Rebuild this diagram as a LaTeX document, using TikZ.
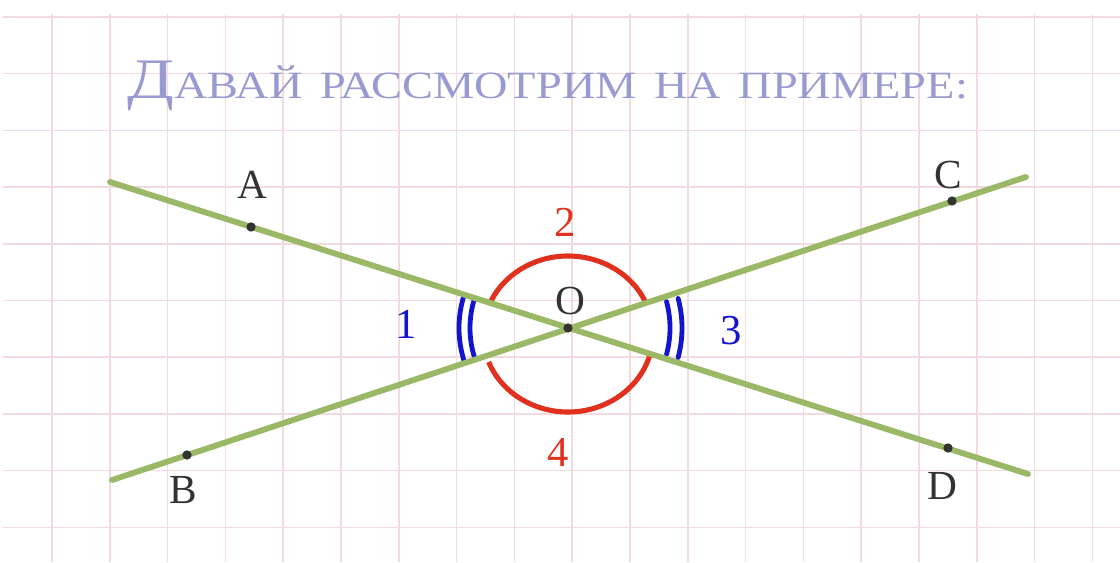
\documentclass[tikz,border=0pt]{standalone}
\usepackage{fontspec}
\setmainfont{Liberation Serif}
\newfontfamily\titlefont[FakeStretch=1.2]{Liberation Serif}
\definecolor{gridpink}{HTML}{F2DADF}
\definecolor{linegreen}{HTML}{9AB866}
\definecolor{arcred}{HTML}{E0301E}
\definecolor{arcblue}{HTML}{1414CC}
\definecolor{titlecol}{HTML}{9A9AD2}
\definecolor{dotcol}{HTML}{333333}
\tikzset{
  gridline/.style={draw=gridpink, line width=1.1pt},
  greenline/.style={draw=linegreen, line width=4.4pt, line cap=round},
  redarc/.style={draw=arcred, line width=3.8pt},
  bluearc/.style={draw=arcblue, line width=3.6pt, line cap=round},
  ptdot/.style={circle, fill=dotcol, inner sep=0pt, minimum size=7pt},
  ptlabel/.style={text=dotcol, font=\fontsize{31}{31}\selectfont, inner sep=0pt},
  numlabel/.style={font=\fontsize{32}{32}\selectfont, inner sep=0pt}
}
\newcommand{\tsp}{\hspace{0.45em}}
\begin{document}
\begin{tikzpicture}[x=0.75pt, y=0.75pt]
\useasboundingbox (0,0) rectangle (1120,562);
\fill[white] (0,0) rectangle (1120,562);
% grid
\foreach \k in {0,...,18} {
  \draw[gridline] ({52+57.8*\k},0) -- ({52+57.8*\k},548);
}
\foreach \k in {0,...,9} {
  \draw[gridline] (3,{545-56.7*\k}) -- (1120,{545-56.7*\k});
}
% title
\node[anchor=base west, inner sep=0pt, text=titlecol] (title) at (127,464)
  {\titlefont{\fontsize{43}{43}\selectfont Д}{\fontsize{29}{29}\selectfont АВАЙ\tsp РАССМОТРИМ\tsp НА\tsp ПРИМЕРЕ:}};
% line ends
\coordinate (ADs) at (110,380);
\coordinate (ADe) at (1028,88);
\coordinate (BCs) at (112,82);
\coordinate (BCe) at (1026,385);
\coordinate (O) at (568,234);
\coordinate (E) at (568,228);
% red arcs
\draw[redarc] ([shift={(25:85 and 78)}]E) arc[start angle=25, end angle=155, x radius=85, y radius=78];
\draw[redarc] ([shift={(201:85 and 78)}]E) arc[start angle=201, end angle=346, x radius=85, y radius=78];
% blue arcs
\draw[bluearc] ([shift={(163:98)}]O) arc[start angle=163, end angle=197, radius=98];
\draw[bluearc] ([shift={(163:109)}]O) arc[start angle=163, end angle=197, radius=109];
\draw[bluearc] ([shift={(-15:102)}]O) arc[start angle=-15, end angle=15, radius=102];
\draw[bluearc] ([shift={(-15:114)}]O) arc[start angle=-15, end angle=15, radius=114];
% lines
\draw[greenline] (ADs) -- (ADe);
\draw[greenline] (BCs) -- (BCe);
% points
\node[ptdot] (pA) at (251,335) {};
\node[ptdot] (pB) at (187,107) {};
\node[ptdot] (pC) at (952,361) {};
\node[ptdot] (pD) at (948,114) {};
\node[ptdot] (pO) at (O) {};
% labels
\node[ptlabel] (lA) at (252,377) {A};
\node[ptlabel] (lB) at (183,72) {B};
\node[ptlabel] (lC) at (948,387) {C};
\node[ptlabel] (lD) at (942,76) {D};
\node[ptlabel] (lO) at (570,261) {O};
\node[numlabel, text=arcblue] (n1) at (406,238) {1};
\node[numlabel, text=arcred] (n2) at (565,340) {2};
\node[numlabel, text=arcblue] (n3) at (731,231) {3};
\node[numlabel, text=arcred] (n4) at (558,110) {4};
\end{tikzpicture}
\end{document}
